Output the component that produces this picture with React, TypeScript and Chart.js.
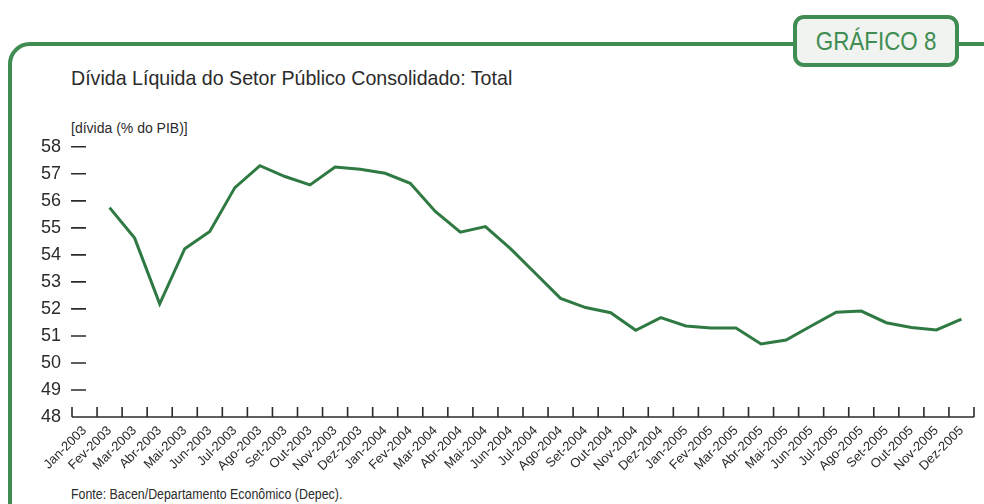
import React, { useEffect, useRef } from "react";
import { Chart, registerables } from "chart.js";

Chart.register(...registerables);

const categories = [
  "Jan-2003", "Fev-2003", "Mar-2003", "Abr-2003", "Mai-2003", "Jun-2003",
  "Jul-2003", "Ago-2003", "Set-2003", "Out-2003", "Nov-2003", "Dez-2003",
  "Jan-2004", "Fev-2004", "Mar-2004", "Abr-2004", "Mai-2004", "Jun-2004",
  "Jul-2004", "Ago-2004", "Set-2004", "Out-2004", "Nov-2004", "Dez-2004",
  "Jan-2005", "Fev-2005", "Mar-2005", "Abr-2005", "Mai-2005", "Jun-2005",
  "Jul-2005", "Ago-2005", "Set-2005", "Out-2005", "Nov-2005", "Dez-2005",
];

const divida: (number | null)[] = [
  null, 55.75, 54.62, 52.19, 54.23, 54.87,
  56.49, 57.3, 56.9, 56.59, 57.25, 57.17,
  57.02, 56.65, 55.61, 54.84, 55.05, 54.23,
  53.31, 52.39, 52.05, 51.86, 51.21, 51.68,
  51.37, 51.29, 51.29, 50.7, 50.85, 51.37,
  51.88, 51.92, 51.49, 51.31, 51.22, 51.62,
];

const yTicks = [48, 49, 50, 51, 52, 53, 54, 55, 56, 57, 58];

const FONT = "'Liberation Sans', Arial, sans-serif";
const GREEN = "#3f8d52";
const LINE = "#2f7a42";
const INK = "#2b2b2b";

const ticksPlugin = {
  id: "customTicks",
  afterDraw(chart: any) {
    const { ctx, chartArea, scales } = chart;
    const x = scales.x;
    const y = scales.y;
    ctx.save();
    ctx.strokeStyle = INK;
    ctx.lineWidth = 1.6;
    ctx.beginPath();
    ctx.moveTo(chartArea.left, chartArea.bottom);
    ctx.lineTo(chartArea.right, chartArea.bottom);
    const n = categories.length;
    for (let i = 0; i <= n; i++) {
      let px: number;
      if (i === 0) px = x.getPixelForValue(0) - (x.getPixelForValue(1) - x.getPixelForValue(0)) / 2;
      else if (i === n) px = x.getPixelForValue(n - 1) + (x.getPixelForValue(n - 1) - x.getPixelForValue(n - 2)) / 2;
      else px = (x.getPixelForValue(i - 1) + x.getPixelForValue(i)) / 2;
      ctx.moveTo(px, chartArea.bottom);
      ctx.lineTo(px, chartArea.bottom - 10);
    }
    yTicks.forEach((v) => {
      if (v === yTicks[0]) return;
      const py = y.getPixelForValue(v);
      ctx.moveTo(chartArea.left - 1, py);
      ctx.lineTo(chartArea.left + 14, py);
    });
    ctx.stroke();
    ctx.restore();
  },
};

export default function App() {
  const ref = useRef<HTMLCanvasElement | null>(null);

  useEffect(() => {
    if (!ref.current) return;
    const chart = new Chart(ref.current, {
      type: "line",
      data: {
        labels: categories,
        datasets: [
          {
            data: divida,
            borderColor: LINE,
            borderWidth: 3,
            pointRadius: 0,
            tension: 0,
            fill: false,
            spanGaps: false,
          },
        ],
      },
      options: {
        animation: false,
        responsive: false,
        maintainAspectRatio: false,
        layout: { padding: { top: 10, right: 10, left: 0, bottom: 0 } },
        plugins: {
          legend: { display: false },
          tooltip: { enabled: false },
          title: { display: false },
        },
        scales: {
          x: {
            type: "category",
            offset: true,
            grid: { display: false, drawTicks: false, offset: true },
            border: { display: false },
            afterFit: (s: any) => {
              s.height = 54;
            },
            ticks: {
              autoSkip: false,
              maxRotation: 45,
              minRotation: 45,
              padding: 6,
              color: INK,
              font: { family: FONT, size: 13 },
            },
          },
          y: {
            min: 48,
            max: 58,
            afterFit: (s: any) => {
              s.width = 72;
            },
            afterBuildTicks: (s: any) => {
              s.ticks = yTicks.map((v) => ({ value: v }));
            },
            grid: { display: false, drawTicks: false },
            border: { display: false },
            ticks: {
              padding: 11,
              color: INK,
              font: { family: FONT, size: 18 },
            },
          },
        },
      },
      plugins: [ticksPlugin],
    });
    return () => chart.destroy();
  }, []);

  return (
    <div
      style={{
        position: "fixed",
        left: 0,
        top: 0,
        width: 984,
        height: 504,
        overflow: "hidden",
        background: "#ffffff",
        fontFamily: FONT,
      }}
    >
      <div
        style={{
          position: "absolute",
          left: 8,
          top: 42,
          width: 1000,
          height: 500,
          border: `4px solid ${GREEN}`,
          borderRadius: 22,
          boxSizing: "border-box",
        }}
      />
      <div
        style={{
          position: "absolute",
          left: 793,
          top: 15,
          width: 166,
          height: 52,
          border: `4px solid ${GREEN}`,
          borderRadius: 11,
          boxSizing: "border-box",
          background: "#f0f3ef",
          color: GREEN,
          fontSize: 26,
          lineHeight: "44px",
          textAlign: "center",
          whiteSpace: "nowrap",
        }}
      >
        <span style={{ display: "inline-block", transform: "scaleX(0.86)" }}>GRÁFICO 8</span>
      </div>
      <div
        style={{
          position: "absolute",
          left: 71,
          top: 66,
          fontSize: 21,
          color: INK,
          whiteSpace: "nowrap",
          transform: "scaleX(0.934)",
          transformOrigin: "left center",
        }}
      >
        Dívida Líquida do Setor Público Consolidado: Total
      </div>
      <div
        style={{
          position: "absolute",
          left: 71,
          top: 120,
          fontSize: 14,
          color: INK,
          whiteSpace: "nowrap",
        }}
      >
        [dívida (% do PIB)]
      </div>
      <canvas
        ref={ref}
        width={984}
        height={346}
        style={{ position: "absolute", left: 0, top: 125, width: 984, height: 346 }}
      />
      <div
        style={{
          position: "absolute",
          left: 71,
          top: 486,
          fontSize: 14,
          color: INK,
          whiteSpace: "nowrap",
          transform: "scaleX(0.885)",
          transformOrigin: "left center",
        }}
      >
        Fonte: Bacen/Departamento Econômico (Depec).
      </div>
    </div>
  );
}
